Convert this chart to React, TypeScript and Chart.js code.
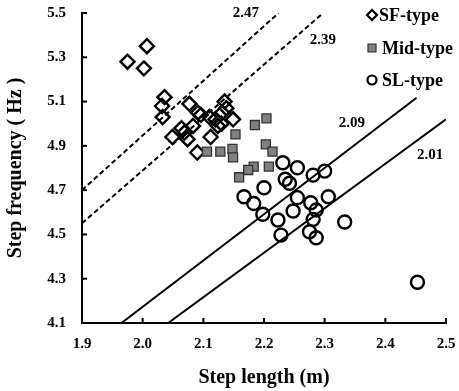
import React, { useEffect, useRef } from 'react';
import { Chart, registerables } from 'chart.js';

Chart.register(...registerables);

// ---- data ----
const xTicks = [1.9, 2.0, 2.1, 2.2, 2.3, 2.4, 2.5];
const yTicks = [4.1, 4.3, 4.5, 4.7, 4.9, 5.1, 5.3, 5.5];

const sfLength = [1.975, 2.007, 2.002, 2.036, 2.032, 2.033, 2.049, 2.064, 2.069, 2.074, 2.077, 2.083, 2.091, 2.096, 2.09, 2.11, 2.112, 2.124, 2.13, 2.131, 2.135, 2.149, 2.138, 2.12];
const sfFreq = [5.28, 5.35, 5.25, 5.12, 5.08, 5.03, 4.94, 4.98, 4.96, 4.93, 5.09, 4.99, 5.05, 5.04, 4.87, 5.03, 4.94, 4.99, 5.0, 5.05, 5.1, 5.02, 5.07, 5.02];

const midLength = [2.106, 2.128, 2.148, 2.149, 2.153, 2.185, 2.204, 2.203, 2.214, 2.183, 2.174, 2.159, 2.208];
const midFreq = [4.874, 4.874, 4.886, 4.848, 4.952, 4.994, 5.024, 4.907, 4.874, 4.806, 4.791, 4.758, 4.806];

const slLength = [2.231, 2.255, 2.281, 2.3, 2.235, 2.242, 2.2, 2.167, 2.183, 2.198, 2.255, 2.277, 2.306, 2.286, 2.248, 2.281, 2.223, 2.228, 2.275, 2.286, 2.333, 2.453];
const slFreq = [4.824, 4.801, 4.768, 4.786, 4.749, 4.731, 4.711, 4.67, 4.64, 4.591, 4.666, 4.643, 4.67, 4.61, 4.606, 4.568, 4.565, 4.497, 4.512, 4.485, 4.556, 4.284];

// reference lines (endpoints)
const lineLabels = ['2.47', '2.39', '2.09', '2.01'];
const lineStartX = [1.9, 1.9, 1.965, 2.042];
const lineStartY = [4.7, 4.55, 4.1, 4.1];
const lineEndX = [2.224, 2.2975, 2.4515, 2.5];
const lineEndY = [5.5, 5.5, 5.117, 5.02];
const lineDashed = [true, true, false, false];
const labelX = [2.17, 2.297, 2.345, 2.474];
const labelY = [5.5, 5.378, 5.003, 4.859];

const legendNames = ['SF-type', 'Mid-type', 'SL-type'];

const FONT = 'Liberation Serif';

const zip = (xs: number[], ys: number[]) => xs.map((x, i) => ({ x, y: ys[i] }));

export default function App() {
  const ref = useRef<HTMLCanvasElement | null>(null);
  useEffect(() => {
    if (!ref.current) return;

    const overlay = {
      id: 'overlay',
      afterDraw(chart: any) {
        const ctx = chart.ctx;
        const xs = chart.scales.x;
        const ys = chart.scales.y;
        const { left, bottom } = chart.chartArea;
        ctx.save();
        ctx.strokeStyle = '#000';
        ctx.lineWidth = 2;
        // inward ticks
        xTicks.forEach((v) => {
          const px = xs.getPixelForValue(v);
          ctx.beginPath();
          ctx.moveTo(px, bottom);
          ctx.lineTo(px, bottom - 5);
          ctx.stroke();
        });
        yTicks.forEach((v) => {
          const py = ys.getPixelForValue(v);
          ctx.beginPath();
          ctx.moveTo(left, py);
          ctx.lineTo(left + 5, py);
          ctx.stroke();
        });
        // line labels
        ctx.fillStyle = '#000';
        ctx.font = `bold 15px "${FONT}"`;
        ctx.textAlign = 'center';
        ctx.textBaseline = 'middle';
        lineLabels.forEach((t, i) => {
          ctx.fillText(t, xs.getPixelForValue(labelX[i]), ys.getPixelForValue(labelY[i]));
        });
        // legend
        const mx = chart.chartArea.right - 74;
        const rows = [15, 48, 80];
        ctx.font = `bold 18px "${FONT}"`;
        ctx.textAlign = 'left';
        legendNames.forEach((name, i) => {
          const y = rows[i];
          ctx.beginPath();
          if (i === 0) {
            ctx.lineWidth = 2.2;
            ctx.moveTo(mx, y - 5);
            ctx.lineTo(mx + 5, y);
            ctx.lineTo(mx, y + 5);
            ctx.lineTo(mx - 5, y);
            ctx.closePath();
            ctx.stroke();
          } else if (i === 1) {
            ctx.lineWidth = 1.2;
            ctx.fillStyle = '#808080';
            ctx.rect(mx - 4, y - 4, 8, 8);
            ctx.fill();
            ctx.strokeStyle = '#333';
            ctx.stroke();
            ctx.strokeStyle = '#000';
          } else {
            ctx.lineWidth = 2.2;
            ctx.arc(mx, y, 4.5, 0, Math.PI * 2);
            ctx.stroke();
          }
          ctx.fillStyle = '#000';
          ctx.fillText(name, mx + (i === 0 ? 7 : 10), y + 1);
        });
        ctx.restore();
      },
    };

    const lineSets = lineLabels.map((lab, i) => ({
      label: lab,
      data: [
        { x: lineStartX[i], y: lineStartY[i] },
        { x: lineEndX[i], y: lineEndY[i] },
      ],
      showLine: true,
      borderColor: '#000',
      borderWidth: 2,
      borderDash: lineDashed[i] ? [5, 3] : [],
      pointRadius: 0,
      pointHoverRadius: 0,
      fill: false,
    }));

    const chart = new Chart(ref.current, {
      type: 'scatter',
      data: {
        datasets: [
          ...lineSets,
          {
            label: 'Mid-type',
            data: zip(midLength, midFreq),
            pointStyle: 'rect',
            pointRadius: 6.4,
            backgroundColor: '#808080',
            borderColor: '#333',
            borderWidth: 1.3,
          },
          {
            label: 'SF-type',
            data: zip(sfLength, sfFreq),
            pointStyle: 'rectRot',
            pointRadius: 7,
            backgroundColor: 'rgba(0,0,0,0)',
            borderColor: '#000',
            borderWidth: 2.4,
          },
          {
            label: 'SL-type',
            data: zip(slLength, slFreq),
            pointStyle: 'circle',
            pointRadius: 6.5,
            backgroundColor: 'rgba(0,0,0,0)',
            borderColor: '#000',
            borderWidth: 2.4,
          },
        ],
      },
      options: {
        animation: false,
        responsive: false,
        maintainAspectRatio: false,
        events: [],
        layout: { padding: { left: 0, right: 13, top: 13, bottom: 0 } },
        plugins: { legend: { display: false }, tooltip: { enabled: false } },
        scales: {
          x: {
            type: 'linear',
            min: 1.9,
            max: 2.5,
            afterFit: (s: any) => { s.height = 68; s.paddingLeft = 0; s.paddingRight = 0; },
            afterBuildTicks: (s: any) => { s.ticks = xTicks.map((v) => ({ value: v })); },
            grid: { display: false, drawTicks: false },
            border: { display: true, color: '#000', width: 2 },
            ticks: {
              color: '#000',
              padding: 12,
              maxRotation: 0,
              autoSkip: false,
              font: { family: FONT, size: 15, weight: 'bold' },
              callback: (v: any) => Number(v).toFixed(1),
            },
            title: {
              display: true,
              text: 'Step length (m)',
              color: '#000',
              padding: { top: 0, bottom: 1 },
              font: { family: FONT, size: 20, weight: 'bold' },
            },
          },
          y: {
            type: 'linear',
            min: 4.1,
            max: 5.5,
            afterFit: (s: any) => { s.width = 82; s.paddingTop = 0; s.paddingBottom = 0; },
            afterBuildTicks: (s: any) => { s.ticks = yTicks.map((v) => ({ value: v })); },
            grid: { display: false, drawTicks: false },
            border: { display: true, color: '#000', width: 2 },
            ticks: {
              color: '#000',
              padding: 16,
              autoSkip: false,
              font: { family: FONT, size: 15, weight: 'bold' },
              callback: (v: any) => Number(v).toFixed(1),
            },
            title: {
              display: true,
              text: 'Step frequency ( Hz )',
              color: '#000',
              padding: { top: 4, bottom: 0 },
              font: { family: FONT, size: 20, weight: 'bold' },
            },
          },
        },
      },
      plugins: [overlay],
    } as any);
    return () => chart.destroy();
  }, []);

  return (
    <div style={{ position: 'fixed', left: 0, top: 0, width: 459, height: 391, background: '#fff' }}>
      <canvas ref={ref} width={459} height={391} style={{ width: 459, height: 391, display: 'block' }} />
    </div>
  );
}
